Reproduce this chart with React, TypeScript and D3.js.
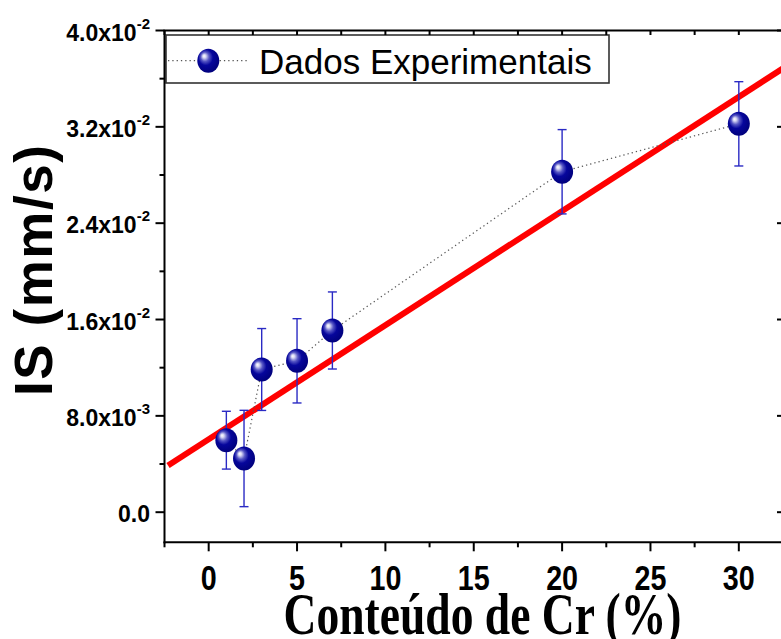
import React from "react";
import * as d3 from "d3";

const crContent = [1, 2, 3, 5, 7, 20, 30];
const isValues = [0.00598, 0.00446, 0.01185, 0.01257, 0.01509, 0.02827, 0.03225];
const isErrors = [0.0024, 0.004, 0.0034, 0.0035, 0.0032, 0.0035, 0.0035];
const fitIntercept = 0.00605;
const fitSlope = 0.000948;
const fitRange = [-2.3, 33];
const xTicks = [0, 5, 10, 15, 20, 25, 30];
const xTickLabels = ["0", "5", "10", "15", "20", "25", "30"];
const xMinorTicks = [-2.5, 2.5, 7.5, 12.5, 17.5, 22.5, 27.5, 32.5];
const yTicks = [0, 0.008, 0.016, 0.024, 0.032, 0.04];
const yTickMantissa = ["0.0", "8.0x10", "1.6x10", "2.4x10", "3.2x10", "4.0x10"];
const yTickExponent = ["", "-3", "-2", "-2", "-2", "-2"];
const yMinorTicks = [0.004, 0.012, 0.02, 0.028, 0.036];
const legendLabel = "Dados Experimentais";
const xTitle = "Conteúdo de Cr (%)";
const yTitle = "IS (mm/s)";

export default function App() {
  const x = d3.scaleLinear().domain([-2.5, 32.5]).range([164.5, 783]);
  const y = d3.scaleLinear().domain([-0.0025, 0.04]).range([542.3, 30.5]);
  const x0 = x.range()[0];
  const x1 = x.range()[1];
  const yB = y.range()[0];
  const yT = y.range()[1];

  const pts = crContent.map((c, i) => [c, isValues[i]] as [number, number]);
  const dotted = d3
    .line<[number, number]>()
    .x((d) => x(d[0]))
    .y((d) => y(d[1]))(pts) as string;
  const fit = d3
    .line<number>()
    .x((d) => x(d))
    .y((d) => y(fitIntercept + fitSlope * d))(fitRange) as string;

  const arial = "'Liberation Sans', Arial, sans-serif";
  const serif = "'Liberation Serif', 'Times New Roman', serif";

  const Marker = ({ cx, cy }: { cx: number; cy: number }) => (
    <ellipse cx={cx} cy={cy} rx={11} ry={12} fill="url(#sphere)" />
  );

  return (
    <svg
      width={781}
      height={639}
      style={{ position: "absolute", left: 0, top: 0, background: "#fff" }}
    >
      <defs>
        <radialGradient id="sphere" cx="0.45" cy="0.42" r="0.6" fx="0.3" fy="0.3">
          <stop offset="0%" stopColor="#ffffff" />
          <stop offset="12%" stopColor="#d8d8f4" />
          <stop offset="32%" stopColor="#5656c4" />
          <stop offset="55%" stopColor="#06069c" />
          <stop offset="100%" stopColor="#00007a" />
        </radialGradient>
        <clipPath id="plot">
          <rect x={x0} y={yT} width={x1 - x0} height={yB - yT} />
        </clipPath>
      </defs>

      {/* fit line */}
      <path d={fit} stroke="#ff0000" strokeWidth={6} fill="none" clipPath="url(#plot)" />

      {/* dotted connector */}
      <path d={dotted} stroke="#555" strokeWidth={1.2} strokeDasharray="1.3,3" fill="none" />

      {/* error bars */}
      {pts.map((d, i) => {
        const cx = x(d[0]);
        const top = y(d[1] + isErrors[i]);
        const bot = y(d[1] - isErrors[i]);
        return (
          <g key={"e" + i} stroke="#2a2ac4" strokeWidth={1.4}>
            <line x1={cx} x2={cx} y1={top} y2={bot} />
            <line x1={cx - 4.5} x2={cx + 4.5} y1={top} y2={top} />
            <line x1={cx - 4.5} x2={cx + 4.5} y1={bot} y2={bot} />
          </g>
        );
      })}

      {/* markers */}
      {pts.map((d, i) => (
        <Marker key={"m" + i} cx={x(d[0])} cy={y(d[1])} />
      ))}

      {/* legend */}
      <rect x={166} y={35} width={443} height={48} fill="#fff" stroke="#333" strokeWidth={1.6} />
      <line x1={168} x2={248} y1={60.7} y2={60.7} stroke="#555" strokeWidth={1.2} strokeDasharray="1.3,3" />
      <Marker cx={208.3} cy={60.7} />
      <text x={259} y={73.7} fontFamily={arial} fontSize={35} fill="#000">
        {legendLabel}
      </text>

      {/* axes lines */}
      <g stroke="#000" strokeWidth={2} fill="none">
        <line x1={x0} x2={x0} y1={yT} y2={yB + 1} />
        <line x1={x0 - 1} x2={x1} y1={yB} y2={yB} />
        <line x1={x0 - 1} x2={x1} y1={yT} y2={yT} />
        <line x1={x1} x2={x1} y1={yT} y2={yB} />
      </g>

      {/* x ticks */}
      <g stroke="#000" strokeWidth={2}>
        {xTicks.map((t) => (
          <line key={"xt" + t} x1={x(t)} x2={x(t)} y1={yB} y2={yB + 9} />
        ))}
        {xMinorTicks.map((t) => (
          <line key={"xm" + t} x1={x(t)} x2={x(t)} y1={yB} y2={yB + 5} />
        ))}
        {[...xTicks, ...xMinorTicks].map((t) => (
          <line key={"xtt" + t} x1={x(t)} x2={x(t)} y1={yT} y2={yT + 4.5} />
        ))}
        {yTicks.map((t) => (
          <line key={"yt" + t} x1={x0} x2={x0 - 9} y1={y(t)} y2={y(t)} />
        ))}
        {yMinorTicks.map((t) => (
          <line key={"ym" + t} x1={x0} x2={x0 - 5} y1={y(t)} y2={y(t)} />
        ))}
        {yTicks.map((t) => (
          <line key={"yr" + t} x1={x1} x2={x1 - 6} y1={y(t)} y2={y(t)} />
        ))}
      </g>

      {/* x tick labels */}
      {xTicks.map((t, i) => (
        <text
          key={"xl" + t}
          transform={`translate(${x(t)},590) scale(0.82,1)`}
          textAnchor="middle"
          fontFamily={arial}
          fontWeight="bold"
          fontSize={35}
          fill="#000"
        >
          {xTickLabels[i]}
        </text>
      ))}

      {/* y tick labels */}
      {yTicks.map((t, i) => (
        <text
          key={"yl" + t}
          x={150}
          y={y(t) + 10}
          textAnchor="end"
          fontFamily={arial}
          fontWeight="bold"
          fontSize={23}
          fill="#000"
        >
          <tspan>{yTickMantissa[i]}</tspan>
          {yTickExponent[i] && (
            <tspan dy={-12} fontSize={15}>
              {yTickExponent[i]}
            </tspan>
          )}
        </text>
      ))}

      {/* axis titles */}
      <text
        transform={`translate(482.5,634) scale(0.76,1)`}
        textAnchor="middle"
        fontFamily={serif}
        fontWeight="bold"
        fontSize={60}
        fill="#000"
      >
        {xTitle}
      </text>
      <text
        transform="translate(52,270.5) rotate(-90)"
        textAnchor="middle"
        fontFamily={arial}
        fontWeight="bold"
        fontSize={53}
        textLength={251}
        lengthAdjust="spacing"
        fill="#000"
      >
        {yTitle}
      </text>
    </svg>
  );
}
